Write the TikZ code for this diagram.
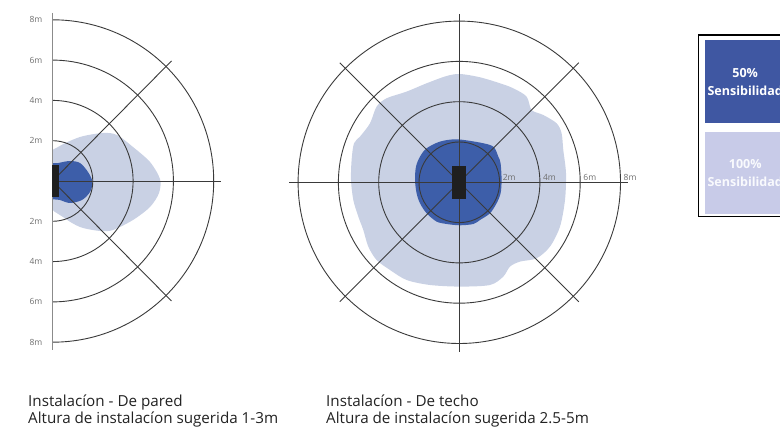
\documentclass[tikz,border=0pt]{standalone}
\usepackage{fontspec}
\setmainfont{Open Sans}
\usepackage{tikz}
\usetikzlibrary{positioning,calc}
\definecolor{zonefar}{RGB}{201,209,228}
\definecolor{zonenear}{RGB}{61,94,169}
\definecolor{keynear}{RGB}{63,87,162}
\definecolor{keyfar}{RGB}{200,203,232}
\definecolor{grid}{RGB}{58,58,58}
\definecolor{tick}{RGB}{110,110,110}
\definecolor{ink}{RGB}{34,34,34}

\begin{document}
\begin{tikzpicture}[x=1pt,y=1pt,
      ring/.style={draw=grid,line width=0.9pt},
      ax/.style={draw=grid,line width=0.9pt},
      wall/.style={draw=tick!80,line width=1.7pt},
      far/.style={fill=zonefar},
      near/.style={fill=zonenear},
      sensor/.style={fill=black!88,inner sep=0pt,minimum width=#1,draw=none},
      tk/.style={font=\fontsize{8.5}{9}\selectfont,text=tick,inner sep=0.5pt},
      captxt/.style={font=\fontsize{15.2}{17.6}\selectfont,text=ink,align=left,anchor=base west,inner sep=0pt},
      keybox/.style={minimum width=80pt,minimum height=#1,inner sep=0pt,anchor=north west,
                     font=\fontsize{12.5}{18}\selectfont\bfseries,align=center},
    ]
    \useasboundingbox (0,0) rectangle (780,430);
    \clip (0,0) rectangle (780,430);
    \coordinate (wallc) at (52.5,249);
    \coordinate (ceilc) at (459.3,247.7);

    % wall mounting
    \begin{scope}
      \clip (wallc) ++(0,-120) rectangle ++(200,240);
      \path[far,shift={(wallc)}] plot[smooth cycle] coordinates
        {(-4,24) (5.5,34) (27.5,44) (50.5,48) (64.5,46) (80.5,34) (97.5,19) (107.5,2)
         (106.5,-12) (97.5,-26) (80.5,-39) (60.5,-49) (47.5,-50) (27.5,-46) (10.5,-36) (-4,-22)};
      \path[near,shift={(wallc)}] plot[smooth cycle] coordinates
        {(-4,15) (6,18) (17.5,20) (27.5,18) (35.5,9) (40,-1) (37.5,-11) (29.5,-19)
         (17.5,-22) (7.5,-19) (-4,-15)};
    \end{scope}
    \foreach \r in {40.3,80.6,120.9,161.2}
      \draw[ring] (wallc) ++(0,\r) arc[start angle=90,end angle=-90,radius=\r];
    \draw[ax] (wallc) -- ++(168.5,0);
    \draw[ax] (wallc) -- ++(119,120);
    \draw[ax] (wallc) -- ++(119,-120);
    \draw[wall] (52.5,417) -- (52.5,80);
    \node[sensor=6.7pt,minimum height=32pt] (wallsensor) at (55.3,249) {};
    \foreach \r/\t in {40.3/2m,80.6/4m,120.9/6m,161.2/8m} {
      \node[tk,anchor=east] at ($(wallc)+(-9.5,\r)$) {\t};
      \node[tk,anchor=east] at ($(wallc)+(-9.5,-\r)$) {\t};
    }

    % ceiling mounting
    \path[far,shift={(ceilc)}] plot[smooth cycle] coordinates
      {(0.7,108.3) (20.7,105) (40.7,99) (54,94) (67.3,85.7) (72.3,72.3) (84,67.3)
       (97.3,59) (102.3,49) (104,32.3) (106.7,9) (105.7,-17.7) (100.7,-44.3)
       (90.7,-64.3) (77.3,-76) (60.7,-79.3) (50.7,-84.3) (44,-94.3) (30.7,-102.7)
       (0.7,-104.3) (-29.3,-102.7) (-52.7,-97.7) (-69.3,-87.7) (-82.7,-77.7)
       (-91,-64.3) (-96,-47.7) (-101,-34.3) (-106,-17.7) (-108.3,2.3) (-107.7,22.3)
       (-105.3,39) (-99.3,45.7) (-89.3,59) (-82.7,75.7) (-72.7,84) (-52.7,90.7)
       (-32.7,99) (-12.7,106.3)};
    \path[near,shift={(ceilc)}] plot[smooth cycle] coordinates
      {(-2.7,43) (20.7,39.7) (34,35.7) (39,25.7) (41.3,19) (42.3,2.3) (41.3,-11)
       (37.3,-21) (30.7,-31) (20.7,-37.7) (14,-41.7) (0.7,-43) (-12.7,-41.7)
       (-22.7,-39.3) (-32.7,-31) (-39.3,-21) (-42.7,-11) (-44.3,2.3) (-43.3,15.7)
       (-39.3,25.7) (-32.7,34) (-19.3,40.7)};
    \foreach \r in {40.3,80.6,120.9,161.2}
      \draw[ring] (ceilc) circle[radius=\r];
    \draw[ax] (ceilc) ++(-170.3,0) -- ++(339,0);
    \draw[ax] (ceilc) ++(0,168.3) -- ++(0,-338);
    \draw[ax] (ceilc) ++(-119.5,119.5) -- ++(239,-239);
    \draw[ax] (ceilc) ++(119.5,119.5) -- ++(-239,-239);
    \node[sensor=14pt,minimum height=33pt] (ceilsensor) at (458.7,247.8) {};
    \foreach \r/\t in {40.3/2m,80.6/4m,120.9/6m,161.2/8m}
      \node[tk,anchor=base west] at ($(ceilc)+(\r+2.5,2)$) {\t};

    % legend
    \draw[line width=1.1pt] (698.5,395) rectangle (820,213.5);
    \node[keybox=82.7pt,fill=keynear,text=white] (key50) at (705,390)
      {50\%\\Sensibilidad};
    \node[keybox=82.3pt,fill=keyfar,text=white!90!keyfar,below=8.3pt of key50.south west,anchor=north west] (key100)
      {100\%\\Sensibilidad};

    % captions
    \node[captxt] (wallcap) at (28,6) {Instalacíon - De pared\\Altura de instalacíon sugerida 1-3m};
    \node[captxt] (ceilcap) at (326,6) {Instalacíon - De techo\\Altura de instalacíon sugerida 2.5-5m};
  \end{tikzpicture}
\end{document}
